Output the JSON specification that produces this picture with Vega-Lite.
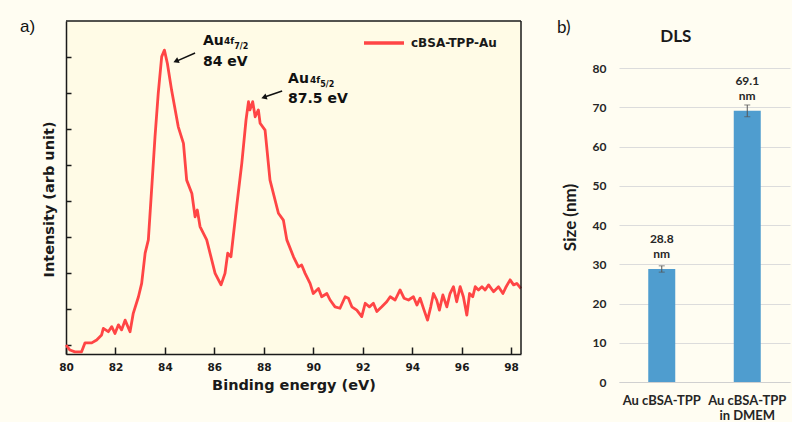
{
  "$schema": "https://vega.github.io/schema/vega-lite/v6.json",
  "background": "#fffdf2",
  "padding": {"left": 20, "top": 18, "right": 2, "bottom": 0},
  "spacing": 34,
  "columns": 2,
  "align": "none",
  "config": {"view": {"stroke": null}},
  "datasets": {
    "xps": [
      {"energy": 80.0, "intensity": 1.0}, {"energy": 80.16, "intensity": 0.86}, {"energy": 80.36, "intensity": 0.81},
      {"energy": 80.63, "intensity": 0.81}, {"energy": 80.77, "intensity": 1.06}, {"energy": 81.04, "intensity": 1.06},
      {"energy": 81.24, "intensity": 1.14}, {"energy": 81.44, "intensity": 1.28}, {"energy": 81.51, "intensity": 1.46},
      {"energy": 81.71, "intensity": 1.37}, {"energy": 81.85, "intensity": 1.51}, {"energy": 81.98, "intensity": 1.32},
      {"energy": 82.12, "intensity": 1.56}, {"energy": 82.25, "intensity": 1.42}, {"energy": 82.39, "intensity": 1.69},
      {"energy": 82.59, "intensity": 1.37}, {"energy": 82.72, "intensity": 1.88}, {"energy": 82.93, "intensity": 2.34},
      {"energy": 83.06, "intensity": 2.71}, {"energy": 83.2, "intensity": 3.55}, {"energy": 83.33, "intensity": 3.92},
      {"energy": 83.47, "intensity": 5.4}, {"energy": 83.6, "intensity": 6.79}, {"energy": 83.73, "intensity": 7.99},
      {"energy": 83.87, "intensity": 9.01}, {"energy": 83.98, "intensity": 9.19}, {"energy": 84.1, "intensity": 8.82},
      {"energy": 84.27, "intensity": 8.08}, {"energy": 84.54, "intensity": 7.06}, {"energy": 84.75, "intensity": 6.6},
      {"energy": 84.88, "intensity": 5.58}, {"energy": 85.09, "intensity": 5.21}, {"energy": 85.22, "intensity": 4.56},
      {"energy": 85.31, "intensity": 4.75}, {"energy": 85.42, "intensity": 4.29}, {"energy": 85.69, "intensity": 3.92},
      {"energy": 86.03, "intensity": 2.99}, {"energy": 86.27, "intensity": 2.67}, {"energy": 86.43, "intensity": 2.99},
      {"energy": 86.54, "intensity": 3.55}, {"energy": 86.67, "intensity": 3.45}, {"energy": 86.9, "intensity": 4.84},
      {"energy": 87.11, "intensity": 6.05}, {"energy": 87.28, "intensity": 7.25}, {"energy": 87.38, "intensity": 7.76},
      {"energy": 87.44, "intensity": 7.53}, {"energy": 87.55, "intensity": 7.76}, {"energy": 87.65, "intensity": 7.34},
      {"energy": 87.78, "intensity": 7.53}, {"energy": 87.85, "intensity": 7.16}, {"energy": 88.05, "intensity": 6.97},
      {"energy": 88.25, "intensity": 5.58}, {"energy": 88.59, "intensity": 4.66}, {"energy": 88.79, "intensity": 4.47},
      {"energy": 88.93, "intensity": 3.92}, {"energy": 89.2, "intensity": 3.45}, {"energy": 89.4, "intensity": 3.17},
      {"energy": 89.53, "intensity": 3.22}, {"energy": 89.67, "intensity": 2.99}, {"energy": 89.87, "intensity": 2.71},
      {"energy": 90.0, "intensity": 2.43}, {"energy": 90.21, "intensity": 2.57}, {"energy": 90.34, "intensity": 2.34},
      {"energy": 90.55, "intensity": 2.43}, {"energy": 90.68, "intensity": 2.25}, {"energy": 90.88, "intensity": 2.06},
      {"energy": 91.08, "intensity": 2.02}, {"energy": 91.29, "intensity": 2.34}, {"energy": 91.42, "intensity": 2.3},
      {"energy": 91.56, "intensity": 2.06}, {"energy": 91.76, "intensity": 1.97}, {"energy": 91.96, "intensity": 1.79},
      {"energy": 92.1, "intensity": 2.16}, {"energy": 92.27, "intensity": 2.06}, {"energy": 92.43, "intensity": 2.16},
      {"energy": 92.57, "intensity": 1.93}, {"energy": 92.77, "intensity": 2.06}, {"energy": 92.97, "intensity": 2.2},
      {"energy": 93.11, "intensity": 2.34}, {"energy": 93.31, "intensity": 2.25}, {"energy": 93.51, "intensity": 2.53},
      {"energy": 93.67, "intensity": 2.3}, {"energy": 93.85, "intensity": 2.25}, {"energy": 94.05, "intensity": 2.34},
      {"energy": 94.19, "intensity": 2.11}, {"energy": 94.32, "intensity": 2.3}, {"energy": 94.48, "intensity": 1.97},
      {"energy": 94.62, "intensity": 1.69}, {"energy": 94.75, "intensity": 2.06}, {"energy": 94.86, "intensity": 2.43},
      {"energy": 94.99, "intensity": 2.25}, {"energy": 95.1, "intensity": 1.97}, {"energy": 95.24, "intensity": 2.39},
      {"energy": 95.4, "intensity": 2.06}, {"energy": 95.53, "intensity": 2.43}, {"energy": 95.67, "intensity": 2.62},
      {"energy": 95.8, "intensity": 2.2}, {"energy": 95.94, "intensity": 2.62}, {"energy": 96.07, "intensity": 2.34},
      {"energy": 96.21, "intensity": 1.83}, {"energy": 96.32, "intensity": 2.43}, {"energy": 96.45, "intensity": 2.34},
      {"energy": 96.55, "intensity": 2.62}, {"energy": 96.68, "intensity": 2.53}, {"energy": 96.82, "intensity": 2.62},
      {"energy": 96.95, "intensity": 2.53}, {"energy": 97.09, "intensity": 2.67}, {"energy": 97.29, "intensity": 2.48},
      {"energy": 97.49, "intensity": 2.62}, {"energy": 97.67, "intensity": 2.43}, {"energy": 97.8, "intensity": 2.62},
      {"energy": 97.96, "intensity": 2.81}, {"energy": 98.1, "intensity": 2.67}, {"energy": 98.23, "intensity": 2.71},
      {"energy": 98.4, "intensity": 2.57}
    ],
    "dls": [
      {"sample": "Au cBSA-TPP", "size": 28.8, "err": 0.8},
      {"sample": "Au cBSA-TPP in DMEM", "size": 69.1, "err": 1.5}
    ],
    "one": [{}]
  },
  "concat": [
    {
      "width": 455,
      "height": 333,
      "title": {"text": "a)", "anchor": "start", "frame": "group", "dx": -46, "dy": 16, "offset": 0, "font": "Liberation Sans", "fontSize": 17, "fontWeight": "normal", "color": "#111111"},
      "view": {"fill": "#fffbe6"},
      "layer": [
        {
          "data": {"name": "xps"},
          "mark": {"type": "line", "strokeWidth": 2.8, "strokeJoin": "round"},
          "encoding": {
            "x": {
              "field": "energy", "type": "quantitative",
              "scale": {"domain": [80, 98.4], "nice": false, "zero": false},
              "axis": {
                "values": [80, 81, 82, 83, 84, 85, 86, 87, 88, 89, 90, 91, 92, 93, 94, 95, 96, 97, 98],
                "labelExpr": "datum.value % 2 == 0 ? datum.label : ''",
                "tickSize": {"condition": {"test": "datum.value % 2 == 1", "value": -4}, "value": -7},
                "tickColor": "#1a1a1a", "tickWidth": 1.5, "domain": true, "domainColor": "#1a1a1a", "domainWidth": 1.5, "grid": false,
                "labelFont": "DejaVu Sans", "labelFontWeight": "bold", "labelFontSize": 10.5, "labelColor": "#1a1a1a",
                "labelPadding": 15, "labelFlush": false,
                "title": "Binding energy (eV)", "titleFont": "DejaVu Sans", "titleFontSize": 14.5, "titleFontWeight": "bold",
                "titleColor": "#1a1a1a", "titlePadding": 6
              }
            },
            "y": {
              "field": "intensity", "type": "quantitative",
              "scale": {"domain": [0.75, 10], "nice": false, "zero": false},
              "axis": {
                "values": [1, 2, 3, 4, 5, 6, 7, 8, 9], "labels": false,
                "tickSize": -5, "tickWidth": 1.5, "tickColor": "#1a1a1a", "domain": true, "domainColor": "#1a1a1a", "domainWidth": 1.5, "grid": false,
                "title": "Intensity (arb unit)", "titleFont": "DejaVu Sans", "titleFontSize": 14.5, "titleFontWeight": "bold",
                "titleColor": "#1a1a1a", "titlePadding": 9, "titleY": 178
              }
            },
            "color": {
              "datum": "cBSA-TPP-Au", "type": "nominal",
              "scale": {"range": ["#ff4545"]},
              "legend": {
                "title": null, "orient": "none", "legendX": 296, "legendY": 0, "padding": 0,
                "symbolType": "stroke", "symbolSize": 1600, "symbolStrokeWidth": 3.5,
                "labelFont": "DejaVu Sans", "labelFontWeight": "bold", "labelFontSize": 12, "labelColor": "#1a1a1a", "labelOffset": 5
              }
            }
          }
        },
        {"data": {"name": "one"}, "mark": {"type": "rule", "color": "#1a1a1a", "strokeWidth": 1.5}, "encoding": {"x": {"datum": 80}, "y": {"datum": 10}, "x2": {"datum": 98.4}, "y2": {"datum": 10}}},
        {"data": {"name": "one"}, "mark": {"type": "rule", "color": "#1a1a1a", "strokeWidth": 1.5}, "encoding": {"x": {"datum": 98.4}, "y": {"datum": 0.75}, "x2": {"datum": 98.4}, "y2": {"datum": 10}}},
        {"data": {"name": "one"}, "mark": {"type": "rule", "color": "#111111", "strokeWidth": 1.5}, "encoding": {"x": {"datum": 85.22}, "y": {"datum": 9.111}, "x2": {"datum": 84.45}, "y2": {"datum": 8.88}}},
        {"data": {"name": "one"}, "mark": {"type": "point", "shape": "triangle", "filled": true, "size": 40, "angle": 247, "color": "#111111", "opacity": 1}, "encoding": {"x": {"datum": 84.48}, "y": {"datum": 8.894}}},
        {"data": {"name": "one"}, "mark": {"type": "rule", "color": "#111111", "strokeWidth": 1.5}, "encoding": {"x": {"datum": 88.74}, "y": {"datum": 8.056}, "x2": {"datum": 88.06}, "y2": {"datum": 7.895}}},
        {"data": {"name": "one"}, "mark": {"type": "point", "shape": "triangle", "filled": true, "size": 40, "angle": 251, "color": "#111111", "opacity": 1}, "encoding": {"x": {"datum": 88.04}, "y": {"datum": 7.889}}},
        {"data": {"name": "one"}, "mark": {"type": "text", "text": "Au", "font": "DejaVu Sans", "fontWeight": "bold", "fontSize": 14, "align": "left", "baseline": "alphabetic", "color": "#111111"}, "encoding": {"x": {"datum": 85.54}, "y": {"datum": 9.342}}},
        {"data": {"name": "one"}, "mark": {"type": "text", "text": "4f", "font": "DejaVu Sans", "fontWeight": "bold", "fontSize": 9, "align": "left", "baseline": "alphabetic", "color": "#111111"}, "encoding": {"x": {"datum": 86.39}, "y": {"datum": 9.36}}},
        {"data": {"name": "one"}, "mark": {"type": "text", "text": "7/2", "font": "DejaVu Sans", "fontWeight": "bold", "fontSize": 8, "align": "left", "baseline": "alphabetic", "color": "#111111"}, "encoding": {"x": {"datum": 86.8}, "y": {"datum": 9.236}}},
        {"data": {"name": "one"}, "mark": {"type": "text", "text": "84 eV", "font": "DejaVu Sans", "fontWeight": "bold", "fontSize": 14, "align": "left", "baseline": "alphabetic", "color": "#111111"}, "encoding": {"x": {"datum": 85.54}, "y": {"datum": 8.75}}},
        {"data": {"name": "one"}, "mark": {"type": "text", "text": "Au", "font": "DejaVu Sans", "fontWeight": "bold", "fontSize": 14, "align": "left", "baseline": "alphabetic", "color": "#111111"}, "encoding": {"x": {"datum": 88.98}, "y": {"datum": 8.269}}},
        {"data": {"name": "one"}, "mark": {"type": "text", "text": "4f", "font": "DejaVu Sans", "fontWeight": "bold", "fontSize": 9, "align": "left", "baseline": "alphabetic", "color": "#111111"}, "encoding": {"x": {"datum": 89.87}, "y": {"datum": 8.28}}},
        {"data": {"name": "one"}, "mark": {"type": "text", "text": "5/2", "font": "DejaVu Sans", "fontWeight": "bold", "fontSize": 8, "align": "left", "baseline": "alphabetic", "color": "#111111"}, "encoding": {"x": {"datum": 90.28}, "y": {"datum": 8.175}}},
        {"data": {"name": "one"}, "mark": {"type": "text", "text": "87.5 eV", "font": "DejaVu Sans", "fontWeight": "bold", "fontSize": 14, "align": "left", "baseline": "alphabetic", "color": "#111111"}, "encoding": {"x": {"datum": 88.98}, "y": {"datum": 7.714}}}
      ]
    },
    {
      "width": 171,
      "height": 361,
      "title": {"text": "b)", "anchor": "start", "frame": "bounds", "dx": -4, "dy": 16, "offset": 0, "font": "Lato", "fontSize": 17, "fontWeight": "normal", "color": "#111111"},
      "data": {"name": "dls"},
      "encoding": {
        "x": {
          "field": "sample", "type": "nominal", "sort": null,
          "scale": {"paddingInner": 0, "paddingOuter": 0},
          "axis": {
            "title": null, "labelAngle": 0, "ticks": false, "domain": true, "domainColor": "#d0d0d0", "domainWidth": 1,
            "labelExpr": "datum.value == 'Au cBSA-TPP in DMEM' ? ['Au cBSA-TPP', 'in DMEM'] : datum.label",
            "labelFont": "Lato", "labelFontWeight": "bold", "labelFontSize": 13, "labelColor": "#262626",
            "labelPadding": 12, "labelLineHeight": 15, "labelBaseline": "top"
          }
        },
        "y": {
          "field": "size", "type": "quantitative",
          "scale": {"domain": [0, 92], "nice": false},
          "axis": {
            "values": [0, 10, 20, 30, 40, 50, 60, 70, 80], "domain": false, "ticks": false,
            "grid": true, "gridColor": "#dcdcdc", "gridWidth": 1,
            "labelFont": "Lato", "labelFontWeight": "bold", "labelFontSize": 12, "labelColor": "#262626", "labelPadding": 13,
            "title": "Size (nm)", "titleFont": "Lato", "titleFontSize": 17, "titleFontWeight": "bold", "titleColor": "#1a1a1a", "titlePadding": 13, "titleY": 196
          }
        }
      },
      "layer": [
        {"mark": {"type": "bar", "size": 27, "color": "#4f9dcf"}},
        {"mark": {"type": "errorbar", "color": "#555555", "thickness": 1, "ticks": {"size": 6, "thickness": 1}}, "encoding": {"yError": {"field": "err"}}},
        {"mark": {"type": "text", "font": "Lato", "fontWeight": "bold", "fontSize": 12, "dy": -25.5, "baseline": "alphabetic", "color": "#262626"}, "encoding": {"text": {"field": "size", "type": "quantitative", "format": ".1f"}}},
        {"mark": {"type": "text", "font": "Lato", "fontWeight": "bold", "fontSize": 12, "dy": -10.5, "baseline": "alphabetic", "color": "#262626"}, "encoding": {"text": {"value": "nm"}}},
        {
          "transform": [{"filter": "datum.sample == 'Au cBSA-TPP'"}],
          "mark": {"type": "text", "text": "DLS", "font": "Lato", "fontWeight": "bold", "fontSize": 17, "dx": 14, "baseline": "middle", "color": "#1a1a1a"},
          "encoding": {"y": {"datum": 87.8}}
        }
      ]
    }
  ]
}
